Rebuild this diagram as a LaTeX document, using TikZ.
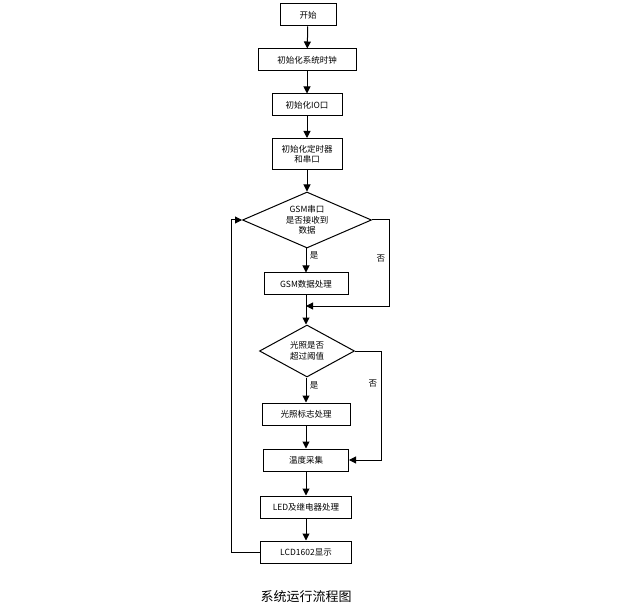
\documentclass[tikz,border=0pt]{standalone}
\usepackage{fontspec}
\setmainfont{Noto Sans CJK SC}
\usetikzlibrary{shapes.geometric,arrows.meta}
\begin{document}
\begin{tikzpicture}[x=1pt,y=-1pt,
  box/.style={draw,line width=1pt,fill=white,minimum height=22pt,inner sep=1pt,font=\fontsize{8.5}{10}\selectfont,align=center},
  dia/.style={draw,line width=1pt,diamond,aspect=2.3,inner sep=0pt,font=\fontsize{8.5}{10.5}\selectfont,align=center},
  arr/.style={line width=1pt,-{Triangle[length=7pt,width=7pt]}},
  lbl/.style={font=\fontsize{8.5}{10}\selectfont}]
\useasboundingbox (0,0) rectangle (622,607);
\node[box,minimum width=56pt] (s) at (308,15) {开始};
\node[box,minimum width=98pt] (clk) at (307,60) {初始化系统时钟};
\node[box,minimum width=70pt] (io) at (307,105) {初始化IO口};
\node[box,minimum width=70pt,minimum height=31pt] (tm) at (307,154) {初始化定时器\\和串口};
\node[dia,minimum width=129pt,minimum height=56pt] (d1) at (307,220) {GSM串口\\是否接收到\\数据};
\node[box,minimum width=84pt] (gsm) at (306,284) {GSM数据处理};
\coordinate (j1) at (306,306);
\node[dia,minimum width=95pt,minimum height=52pt] (d2) at (307,351) {光照是否\\超过阈值};
\node[box,minimum width=88pt] (lf) at (306,414) {光照标志处理};
\node[box,minimum width=85pt] (tp) at (306,460) {温度采集};
\node[box,minimum width=91pt] (led) at (306,507) {LED及继电器处理};
\node[box,minimum width=91pt] (lcd) at (306,552) {LCD1602显示};
\node[font=\fontsize{13}{15}\selectfont] (cap) at (306,597) {系统运行流程图};
\draw[arr] (s) -- (clk);
\draw[arr] (clk) -- (io);
\draw[arr] (io) -- (tm);
\draw[arr] (tm) -- (d1);
\draw[arr] (d1.south -| gsm) -- node[lbl,right,pos=0.3]{是} (gsm);
\draw[arr] (d1.east) -- (389,220) -- node[lbl,left,pos=0.45]{否} (389,306) -- (j1);
\draw[arr] (gsm) -- (d2.north -| gsm);
\draw[arr] (d2.south -| lf) -- node[lbl,right,pos=0.3]{是} (lf);
\draw[arr] (d2.east) -- (381,351) -- node[lbl,left,pos=0.3]{否} (381,460) -- (tp.east);
\draw[arr] (lf) -- (tp);
\draw[arr] (tp) -- (led);
\draw[arr] (led) -- (lcd);
\draw[arr] (lcd.west) -- (231,552) -- (231,220) -- (d1.west);
\end{tikzpicture}
\end{document}
